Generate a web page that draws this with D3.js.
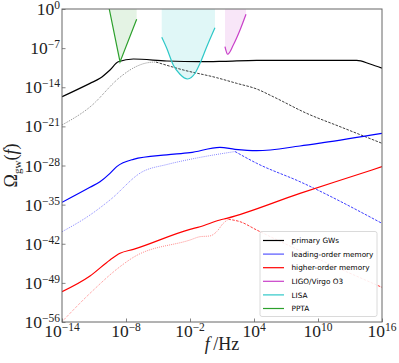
<!DOCTYPE html>
<html><head><meta charset="utf-8">
<script src="https://cdn.jsdelivr.net/npm/d3@7"></script>
<style>html,body{margin:0;padding:0;background:#fff;} svg{display:block;}</style>
</head><body>
<svg id="chart" width="399" height="363"></svg>
<script>
// ---- data (log10 f [Hz], log10 Omega_gw) ----
const xTickExps = [-14, -8, -2, 4, 10, 16];
const yTickExps = [0, -7, -14, -21, -28, -35, -42, -49, -56];

// primary GWs
const fPrimary      = [-14, -11.375, -10.44, -9.5, -8.72, -7.31, -4.18, -1.06, 1.12, 4.25, 10.5, 13.63, 14.88, 16];
const omegaPrimary  = [-15.7, -13.3, -12.4, -10.91, -9.43, -8.95, -9.3, -9.43, -9.36, -9.18, -9.18, -9.18, -9.84, -10.6];
const fPrimaryLow     = [-14, -11.375, -8.56, -7.4, -6.1, -5.2];
const omegaPrimaryLow = [-20.75, -17.53, -12.2, -10.65, -9.66, -9.48];
const fPrimaryHigh     = [-5.2, -2.63, 0.5, 2.38, 4.25, 5.81, 8.94, 12.06, 16];
const omegaPrimaryHigh = [-9.48, -10.91, -12.29, -13.3, -14.31, -15.7, -18.67, -21.05, -24.03];

// leading-order memory
const fLeading      = [-14, -11.375, -10.44, -9.5, -8.87, -7.31, -4.18, -2.0, 0.81, 2.22, 4.25, 8.31, 10.47, 16];
const omegaLeading  = [-34.59, -31.9, -30.9, -29.4, -28.2, -26.9, -26.1, -25.71, -24.75, -25.1, -25.35, -24.51, -23.92, -22.24];
const fLeadingLow     = [-14, -11.375, -9.5, -6.5, -4.16, -2.0, 2.22];
const omegaLeadingLow = [-39.85, -36.86, -34.17, -29.16, -27.82, -26.9, -25.5];
const fLeadingHigh     = [2.22, 4.25, 8.31, 16];
const omegaLeadingHigh = [-25.5, -27.6, -30.9, -38.35];

// higher-order memory
const fHigher      = [-14, -11.375, -9.5, -8.56, -7.31, -2.0, -1.06, 0.81, 1.44, 8.31, 15.06, 16];
const omegaHigher  = [-50.58, -47.77, -44.9, -43.71, -43.0, -39.42, -38.95, -37.75, -37.45, -32.98, -28.8, -28.2];
const fHigherLow     = [-14, -11.375, -8.56, -7.31, -2.0, -1.06, -0.125, 0.5, 1.12, 1.6];
const omegaHigherLow = [-55.95, -50.87, -46.1, -44.43, -41.33, -40.74, -40.6, -39.84, -38.34, -37.63];
const fHigherHigh     = [1.6, 2.69, 4.25, 16];
const omegaHigherHigh = [-37.63, -38.05, -39.54, -49.8];

// detector sensitivity curves
const fPPTA     = [-9.57, -8.56, -7.0];
const omegaPPTA = [0, -9.48, -1.84];
const fLISA     = [-4.65, -4.18, -3.57, -2.94, -2.22, -1.53, -1.06, -0.43, 0.34];
const omegaLISA = [-5.06, -7.03, -10.02, -11.68, -12.52, -11.50, -9.72, -6.75, -3.35];
const fLIGO     = [1.28, 1.53, 2.06, 2.69, 3.25];
const omegaLIGO = [-6.75, -8.1, -6.44, -3.76, -0.95];

const legendLabels = ["primary GWs", "leading-order memory", "higher-order memory", "LIGO/Virgo O3", "LISA", "PPTA"];

// ---- drawing ----
const C = {k:"#000000", b:"#0000ff", r:"#ff0000", m:"#c940c9", c:"#2ec8c8", g:"#2ca02c"};
const legendColors = [C.k, "#5555ff", C.r, C.m, C.c, C.g];
const svg = d3.select('#chart');
const L = 62, R = 382, T = 9, B = 322;
const x = d3.scaleLog().domain([1e-14, 1e16]).range([L, R]);
const y = d3.scaleLog().domain([1e-56, 1]).range([B, T]);
const pts = (fs, os) => fs.map((f, i) => [Math.pow(10, f), Math.pow(10, os[i])]);

svg.append('defs').append('clipPath').attr('id', 'clip')
  .append('rect').attr('x', L).attr('y', T).attr('width', R - L).attr('height', B - T);
const g = svg.append('g').attr('clip-path', 'url(#clip)');

const area = (curve) => d3.area().x(d => x(d[0])).y0(y(1)).y1(d => y(d[1])).curve(curve);
const line = (curve) => d3.line().x(d => x(d[0])).y(d => y(d[1])).curve(curve);

// fills
g.append('path').datum(pts(fPPTA, omegaPPTA)).attr('d', area(d3.curveLinear)).attr('fill', C.g).attr('fill-opacity', 0.13);
g.append('path').datum(pts(fLISA, omegaLISA)).attr('d', area(d3.curveMonotoneX)).attr('fill', C.c).attr('fill-opacity', 0.15);
g.append('path').datum(pts(fLIGO, omegaLIGO)).attr('d', area(d3.curveMonotoneX)).attr('fill', C.m).attr('fill-opacity', 0.13);

function draw(fs, os, color, width, dash, op) {
  const p = g.append('path').datum(pts(fs, os)).attr('d', line(d3.curveMonotoneX))
    .attr('fill', 'none').attr('stroke', color).attr('stroke-width', width).attr('stroke-opacity', op || 1);
  if (dash) p.attr('stroke-dasharray', dash);
}
// thin secondary lines
draw(fPrimaryLow, omegaPrimaryLow, C.k, 0.7, '0.9,1.2', 0.75);
draw(fPrimaryHigh, omegaPrimaryHigh, C.k, 0.9, '2.6,1.3', 0.85);
draw(fLeadingLow, omegaLeadingLow, C.b, 0.7, '0.9,1.2', 0.75);
draw(fLeadingHigh, omegaLeadingHigh, C.b, 0.9, '2.6,1.3', 0.85);
draw(fHigherLow, omegaHigherLow, C.r, 0.7, '0.9,1.2', 0.75);
draw(fHigherHigh, omegaHigherHigh, C.r, 0.9, '2.6,1.3', 0.85);
// main lines
draw(fPrimary, omegaPrimary, C.k, 1.2);
draw(fLeading, omegaLeading, C.b, 1.2);
draw(fHigher, omegaHigher, C.r, 1.2);
// detectors
g.append('path').datum(pts(fPPTA, omegaPPTA)).attr('d', line(d3.curveLinear)).attr('fill', 'none').attr('stroke', C.g).attr('stroke-width', 1.2);
draw(fLISA, omegaLISA, C.c, 1.2);
draw(fLIGO, omegaLIGO, C.m, 1.2);

// axes
const axCol = '#666';
const xa = svg.append('g').attr('transform', `translate(0,${B})`)
  .call(d3.axisBottom(x).tickValues(xTickExps.map(e => Math.pow(10, e))).tickSizeInner(-3.5).tickSizeOuter(0).tickFormat(() => ''));
const ya = svg.append('g').attr('transform', `translate(${L},0)`)
  .call(d3.axisLeft(y).tickValues(yTickExps.map(e => Math.pow(10, e))).tickSizeInner(-3.5).tickSizeOuter(0).tickFormat(() => ''));
[xa, ya].forEach(a => { a.select('.domain').remove(); a.selectAll('line').attr('stroke', axCol).attr('stroke-width', 0.8); });
svg.append('rect').attr('x', L).attr('y', T).attr('width', R - L).attr('height', B - T)
  .attr('fill', 'none').attr('stroke', axCol).attr('stroke-width', 1);

const serif = "'Liberation Serif', 'Times New Roman', serif";
const sup = e => (e < 0 ? '\u2212' + (-e) : String(e));
yTickExps.forEach(e => {
  const t = svg.append('text').attr('x', L - 2).attr('y', y(Math.pow(10, e)) + 6)
    .attr('text-anchor', 'end').attr('font-family', serif).attr('font-size', 17.5).attr('fill', '#222');
  t.append('tspan').text('10');
  t.append('tspan').attr('dy', -6).attr('font-size', 11.5).text(sup(e));
});
xTickExps.forEach(e => {
  const t = svg.append('text').attr('x', x(Math.pow(10, e))).attr('y', B + 15)
    .attr('text-anchor', 'middle').attr('font-family', serif).attr('font-size', 17.5).attr('fill', '#222');
  t.append('tspan').text('10');
  t.append('tspan').attr('dy', -6).attr('font-size', 11.5).text(sup(e));
});

// axis labels
const xl = svg.append('text').attr('x', (L + R) / 2).attr('y', 350).attr('text-anchor', 'middle')
  .attr('font-family', serif).attr('font-size', 18).attr('fill', '#222');
xl.append('tspan').attr('font-style', 'italic').text('f');
xl.append('tspan').text('\u2009/Hz');

const yl = svg.append('text').attr('transform', `translate(17,${(T + B) / 2}) rotate(-90)`).attr('text-anchor', 'middle')
  .attr('font-family', serif).attr('font-size', 18).attr('fill', '#222');
yl.append('tspan').text('\u03A9');
yl.append('tspan').attr('font-size', 11).attr('dy', 4).text('gw');
yl.append('tspan').attr('dy', -4).text('(');
yl.append('tspan').attr('font-style', 'italic').text('f');
yl.append('tspan').text(')');

// legend
const lg = svg.append('g');
lg.append('rect').attr('x', 260).attr('y', 231.5).attr('width', 117).attr('height', 85).attr('rx', 2)
  .attr('fill', '#fff').attr('fill-opacity', 0.9).attr('stroke', '#d0d0d0').attr('stroke-width', 0.8);
legendLabels.forEach((lab, i) => {
  const yy = 240.5 + i * 13.6;
  lg.append('line').attr('x1', 263).attr('x2', 284).attr('y1', yy).attr('y2', yy)
    .attr('stroke', legendColors[i]).attr('stroke-width', 1.2);
  lg.append('text').attr('x', 291.5).attr('y', yy + 2.6).attr('font-family', "'DejaVu Sans', sans-serif")
    .attr('font-size', 7.3).attr('fill', '#000').text(lab);
});
</script>
</body></html>
